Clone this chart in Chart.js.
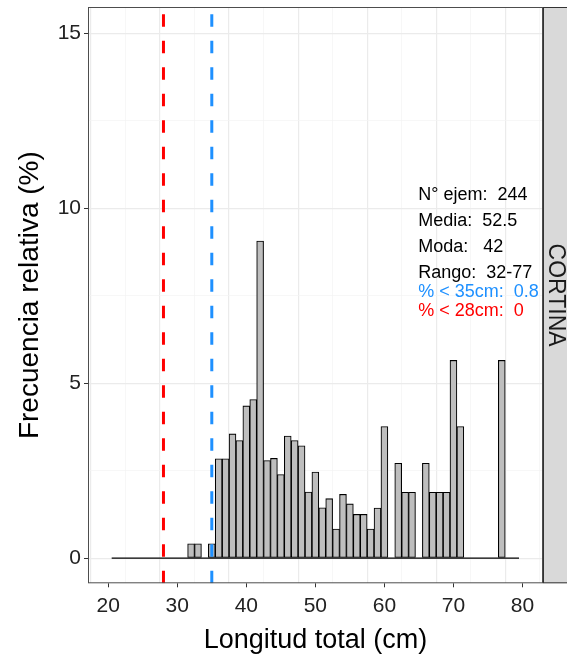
<!DOCTYPE html>
<html>
<head>
<meta charset="utf-8">
<script src="https://cdn.jsdelivr.net/npm/chart.js@4.4.1/dist/chart.umd.min.js"></script>
<style>
	html, body { margin: 0; padding: 0; background: #fff; }
</style>
</head>
<body>
<canvas id="histo-cortina" width="567" height="657"></canvas>

<script>

	// Longitud total (cm), una clase por centimetro
	var tallas = [21, 22, 23, 24, 25, 26, 27, 28, 29, 30,
		31, 32, 33, 34, 35, 36, 37, 38, 39, 40,
		41, 42, 43, 44, 45, 46, 47, 48, 49, 50,
		51, 52, 53, 54, 55, 56, 57, 58, 59, 60,
		61, 62, 63, 64, 65, 66, 67, 68, 69, 70,
		71, 72, 73, 74, 75, 76, 77, 78, 79];

	// Frecuencia relativa (%)
	var frecuencia = [0, 0, 0, 0, 0, 0, 0, 0, 0, 0,
		0, 0.41, 0.41, 0, 0.41, 2.84, 2.84, 3.55, 3.36, 4.35,
		4.53, 9.06, 2.79, 2.85, 2.39, 3.49, 3.36, 3.21, 1.89, 2.46,
		1.44, 1.70, 0.83, 1.82, 1.55, 1.25, 1.25, 0.83, 1.43, 3.76,
		0, 2.71, 1.88, 1.88, 0, 2.71, 1.88, 1.88, 1.88, 5.65,
		3.76, 0, 0, 0, 0, 0, 5.65, 0, 0];

	var xTicks = [20, 30, 40, 50, 60, 70, 80];
	var yTicks = [0, 5, 10, 15];
	var tallaAzul = 35;
	var tallaRoja = 28;
	var panel = 'CORTINA';
	var resumen = ['N° ejem:  244', 'Media:  52.5', 'Moda:   42', 'Rango:  32-77'];
	var resumenAzul = '% < 35cm:  0.8';
	var resumenRojo = '% < 28cm:  0';

	var xMin = 17.07, xMax = 82.97;
	var yMin = -0.72, yMax = 15.75;
	var AZUL = '#1E90FF', ROJO = '#FF0000';
	var FONT = '"Liberation Sans", Arial, sans-serif';

	function minorTicks(major) {
		var out = [];
		for (var i = 0; i < major.length; i++) {
			out.push({ value: major[i] });
			if (i < major.length - 1) out.push({ value: (major[i] + major[i + 1]) / 2 });
		}
		return out;
	}

	function isMajor(list, c) {
		var v = (c && c.tick) ? c.tick.value : c;
		return list.indexOf(v) !== -1;
	}

	function gridOpts(list) {
		return {
			color: function (c) { return isMajor(list, c) ? '#EBEBEB' : '#F3F3F3'; },
			lineWidth: function (c) { return isMajor(list, c) ? 1.2 : 0.7; },
			drawTicks: true,
			tickColor: 'rgba(0,0,0,0)',
			tickLength: 4
		};
	}

	var ggPanel = {
		id: 'ggPanel',
		afterDatasetsDraw: function (chart) {
			var ctx = chart.ctx, x = chart.scales.x, y = chart.scales.y;
			ctx.save();
			ctx.font = '18px ' + FONT;
			ctx.textAlign = 'left';
			ctx.textBaseline = 'alphabetic';
			var px = x.getPixelForValue(64.9);
			var ys = [10.22, 9.48, 8.75, 8.01];
			ctx.fillStyle = '#000';
			for (var i = 0; i < resumen.length; i++) {
				ctx.fillText(resumen[i], px, y.getPixelForValue(ys[i]));
			}
			ctx.fillStyle = AZUL;
			ctx.fillText(resumenAzul, px, y.getPixelForValue(7.46));
			ctx.fillStyle = ROJO;
			ctx.fillText(resumenRojo, px, y.getPixelForValue(6.91));
			ctx.restore();
		},
		afterDraw: function (chart) {
			var ctx = chart.ctx, a = chart.chartArea, x = chart.scales.x, y = chart.scales.y;
			ctx.save();
			// marcas de los ejes
			ctx.strokeStyle = '#333';
			ctx.lineWidth = 1;
			ctx.beginPath();
			xTicks.forEach(function (v) {
				var p = Math.round(x.getPixelForValue(v)) + 0.5;
				ctx.moveTo(p, a.bottom);
				ctx.lineTo(p, a.bottom + 4);
			});
			yTicks.forEach(function (v) {
				var p = Math.round(y.getPixelForValue(v)) + 0.5;
				ctx.moveTo(a.left - 4, p);
				ctx.lineTo(a.left, p);
			});
			ctx.stroke();
			// borde del panel
			ctx.strokeStyle = '#4D4D4D';
			ctx.strokeRect(a.left + 0.5, a.top + 0.5, a.right - a.left - 1, a.bottom - a.top - 1);
			// franja lateral
			ctx.fillStyle = '#D9D9D9';
			ctx.fillRect(a.right, a.top, chart.width - a.right, a.bottom - a.top);
			ctx.strokeStyle = '#333';
			ctx.strokeRect(a.right + 0.5, a.top + 0.5, chart.width - a.right, a.bottom - a.top - 1);
			ctx.translate((a.right + chart.width) / 2, (a.top + a.bottom) / 2);
			ctx.rotate(Math.PI / 2);
			ctx.fillStyle = '#1A1A1A';
			ctx.font = '23px ' + FONT;
			ctx.textAlign = 'center';
			ctx.textBaseline = 'middle';
			ctx.fillText(panel, 0, 0);
			ctx.restore();
		}
	};

	new Chart(document.getElementById('histo-cortina'), {
		type: 'bar',
		data: {
			datasets: [
				{
					type: 'bar',
					data: tallas.map(function (t, i) { return { x: t, y: frecuencia[i] }; }),
					backgroundColor: '#BEBEBE',
					borderColor: '#000',
					borderWidth: 1.1,
					borderSkipped: false,
					barPercentage: 1,
					categoryPercentage: 1,
					order: 3
				},
				{
					type: 'line',
					data: [{ x: tallas[0] - 0.5, y: 0 }, { x: tallas[tallas.length - 1] + 0.5, y: 0 }],
					borderColor: '#000',
					borderWidth: 1.3,
					pointRadius: 0,
					order: 2
				},
				{
					type: 'line',
					data: [{ x: tallaRoja, y: yMin }, { x: tallaRoja, y: yMax }],
					borderColor: ROJO,
					borderWidth: 3,
					borderDash: [12.5, 14],
					pointRadius: 0,
					order: 1
				},
				{
					type: 'line',
					data: [{ x: tallaAzul, y: yMin }, { x: tallaAzul, y: yMax }],
					borderColor: AZUL,
					borderWidth: 3,
					borderDash: [12.5, 14],
					pointRadius: 0,
					order: 0
				}
			]
		},
		options: {
			responsive: false,
			animation: false,
			layout: { padding: { top: 7, right: 24, left: 0, bottom: 0 } },
			plugins: {
				legend: { display: false },
				tooltip: { enabled: false }
			},
			scales: {
				x: {
					type: 'linear',
					min: xMin,
					max: xMax,
					offset: false,
					afterBuildTicks: function (s) { s.ticks = minorTicks(xTicks); },
					afterFit: function (s) { s.height = 73.7; s.paddingLeft = 0; s.paddingRight = 0; },
					border: { display: false },
					grid: gridOpts(xTicks),
					ticks: {
						autoSkip: false,
						maxRotation: 0,
						padding: 6,
						color: '#222',
						font: { family: FONT, size: 21 },
						callback: function (v) { return isMajor(xTicks, v) ? String(v) : ''; }
					},
					title: {
						display: true,
						text: 'Longitud total (cm)',
						color: '#000',
						font: { family: FONT, size: 27 },
						padding: { top: 0, bottom: 0 }
					}
				},
				y: {
					type: 'linear',
					min: yMin,
					max: yMax,
					afterBuildTicks: function (s) { s.ticks = minorTicks(yTicks); },
					afterFit: function (s) { s.width = 88; s.paddingTop = 0; s.paddingBottom = 0; },
					border: { display: false },
					grid: gridOpts(yTicks),
					ticks: {
						autoSkip: false,
						padding: 3,
						color: '#222',
						font: { family: FONT, size: 21 },
						callback: function (v) { return isMajor(yTicks, v) ? String(v) : ''; }
					},
					title: {
						display: true,
						text: 'Frecuencia relativa (%)',
						color: '#000',
						font: { family: FONT, size: 28 },
						padding: { top: 13, bottom: 0 }
					}
				}
			}
		},
		plugins: [ggPanel]
	});

</script>
</body>
</html>
